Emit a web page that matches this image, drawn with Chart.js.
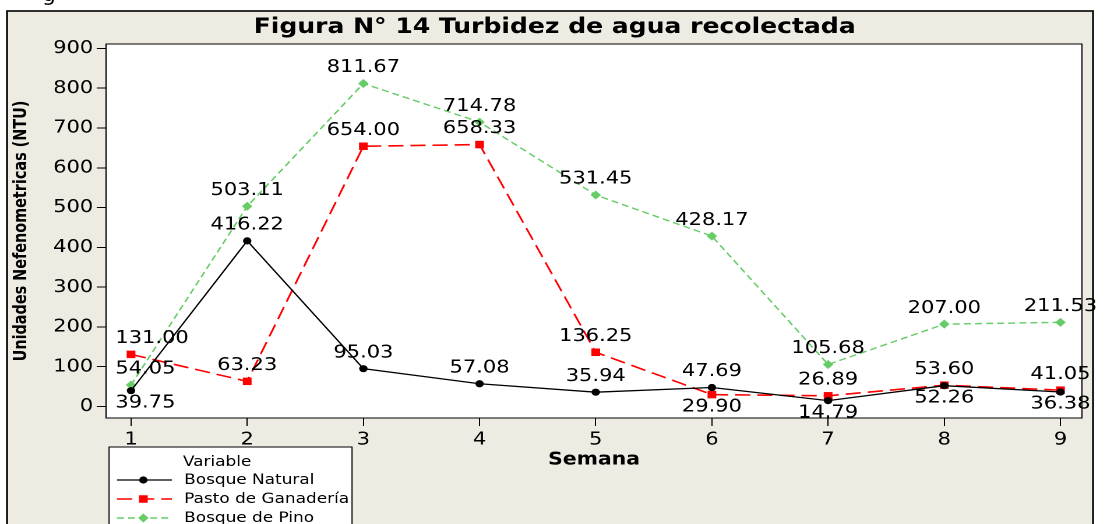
<!DOCTYPE html>
<html>
<head>
<meta charset="utf-8">
<script src="https://cdn.jsdelivr.net/npm/chart.js@4.4.1/dist/chart.umd.min.js"></script>
<style>
  html, body { margin: 0; padding: 0; background: #fff; overflow: hidden; }
  #cap { position: absolute; left: 42px; top: -19px; font: 22px "DejaVu Sans"; color: #000; line-height: 26px; }
</style>
</head>
<body>
<canvas id="c" width="950" height="524" style="width:1107px;height:524px;display:block;position:absolute;left:0;top:0"></canvas>
<div id="cap">g</div>
<script>
// ---- data ----
const weeks = [1, 2, 3, 4, 5, 6, 7, 8, 9];
const bosqueNatural = [39.75, 416.22, 95.03, 57.08, 35.94, 47.69, 14.79, 52.26, 36.38];
const pastoGanaderia = [131.00, 63.23, 654.00, 658.33, 136.25, 29.90, 26.89, 53.60, 41.05];
const bosquePino = [54.05, 503.11, 811.67, 714.78, 531.45, 428.17, 105.68, 207.00, 211.53];
const seriesNames = ['Bosque Natural', 'Pasto de Ganadería', 'Bosque de Pino'];
const xTicks = [1, 2, 3, 4, 5, 6, 7, 8, 9];
const yTicks = [0, 100, 200, 300, 400, 500, 600, 700, 800, 900];
const chartTitle = 'Figura N° 14 Turbidez de agua recolectada';
const xTitle = 'Semana';
const yTitle = 'Unidades Nefenometricas (NTU)';
const legendTitle = 'Variable';

// ---- styling (label side: a = above, b = below) ----
const sideNatural = ['b','a','a','a','a','a','b','b','b'];
const sidePasto   = ['a','a','a','a','a','b','a','a','a'];
const sidePino    = ['a','a','a','a','a','a','a','a','a'];

const FONT = '"DejaVu Sans", Verdana, sans-serif';
const toPts = vals => weeks.map((w, i) => ({ x: w, y: vals[i] }));

function drawMarker(ctx, style, r, x, y) {
  ctx.beginPath();
  if (style === 'circle') {
    ctx.arc(x, y, r, 0, Math.PI * 2);
  } else if (style === 'rect') {
    const s = Math.SQRT1_2 * r;
    ctx.rect(x - s, y - s, 2 * s, 2 * s);
  } else {
    ctx.moveTo(x - r, y); ctx.lineTo(x, y - r); ctx.lineTo(x + r, y); ctx.lineTo(x, y + r); ctx.closePath();
  }
  ctx.fill();
}

const framePlugin = {
  id: 'framePlugin',
  beforeDraw(chart) {
    const { ctx, chartArea: a, width, height } = chart;
    ctx.save();
    ctx.fillStyle = '#fff';
    ctx.fillRect(0, 0, width, height);
    ctx.fillStyle = '#EEEBE3';
    ctx.fillRect(6, 11, 932, 600);
    ctx.strokeStyle = '#000';
    ctx.lineWidth = 1.6;
    ctx.strokeRect(6, 11, 932, 600);
    ctx.fillStyle = '#fff';
    ctx.fillRect(a.left, a.top, a.right - a.left, a.bottom - a.top);
    ctx.restore();
  },
  afterDraw(chart) {
    const { ctx, chartArea: a } = chart;
    ctx.save();
    // plot border
    ctx.strokeStyle = '#000';
    ctx.lineWidth = 1;
    ctx.strokeRect(a.left, a.top, a.right - a.left, a.bottom - a.top);

    // data labels
    ctx.font = '18px ' + FONT;
    ctx.fillStyle = '#000';
    ctx.textAlign = 'center';
    ctx.textBaseline = 'middle';
    chart.data.datasets.forEach((ds, di) => {
      const meta = chart.getDatasetMeta(di);
      meta.data.forEach((pt, i) => {
        const txt = ds.data[i].y.toFixed(2);
        const w = ctx.measureText(txt).width;
        let cx = pt.x;
        if (cx - w / 2 < a.left + 8) cx = a.left + 8 + w / 2;
        const cy = pt.y + (ds.labelSide[i] === 'b' ? 12 : -16);
        ctx.fillText(txt, cx, cy);
      });
    });

    // chart title
    ctx.font = 'bold 21.5px ' + FONT;
    ctx.textBaseline = 'alphabetic';
    ctx.fillText(chartTitle, 476, 33);

    // legend
    const lx = 93.6, ly = 447;
    ctx.fillStyle = '#fff';
    ctx.fillRect(lx, ly, 208.5, 100);
    ctx.strokeStyle = '#000';
    ctx.lineWidth = 1;
    ctx.strokeRect(lx, ly, 208.5, 100);
    ctx.font = '14.5px ' + FONT;
    ctx.fillStyle = '#000';
    ctx.textAlign = 'left';
    ctx.textBaseline = 'middle';
    ctx.fillText(legendTitle, 157, 462);
    chart.data.datasets.forEach((ds, di) => {
      const y = 480 + di * 19;
      ctx.strokeStyle = ds.borderColor;
      ctx.lineWidth = ds.borderWidth;
      ctx.setLineDash(ds.borderDash || []);
      ctx.beginPath();
      ctx.moveTo(100.4, y); ctx.lineTo(147.6, y);
      ctx.stroke();
      ctx.setLineDash([]);
      ctx.fillStyle = ds.pointBackgroundColor;
      drawMarker(ctx, ds.pointStyle, ds.pointRadius, 123, y);
      ctx.fillStyle = '#000';
      ctx.fillText(ds.label, 158, y);
    });
    ctx.restore();
  }
};

new Chart(document.getElementById('c'), {
  type: 'line',
  data: {
    datasets: [
      {
        label: seriesNames[0], data: toPts(bosqueNatural), labelSide: sideNatural,
        borderColor: '#000000', borderWidth: 1.3, borderDash: [],
        pointStyle: 'circle', pointRadius: 3.6, pointBackgroundColor: '#000000', pointBorderColor: '#000000', pointBorderWidth: 0
      },
      {
        label: seriesNames[1], data: toPts(pastoGanaderia), labelSide: sidePasto,
        borderColor: '#FF0000', borderWidth: 1.6, borderDash: [13, 6],
        pointStyle: 'rect', pointRadius: 5.3, pointBackgroundColor: '#FF0000', pointBorderColor: '#FF0000', pointBorderWidth: 0
      },
      {
        label: seriesNames[2], data: toPts(bosquePino), labelSide: sidePino,
        borderColor: '#66CC66', borderWidth: 1.4, borderDash: [6, 3.5],
        pointStyle: 'rectRot', pointRadius: 4.5, pointBackgroundColor: '#66CC66', pointBorderColor: '#66CC66', pointBorderWidth: 0
      }
    ]
  },
  options: {
    responsive: false,
    devicePixelRatio: 2,
    animation: false,
    layout: { padding: { left: 0, top: 44, right: 21.5, bottom: 0 } },
    plugins: { legend: { display: false }, title: { display: false }, tooltip: { enabled: false } },
    elements: { line: { tension: 0, fill: false } },
    scales: {
      x: {
        type: 'linear', min: 0.785, max: 9.185,
        afterBuildTicks(s) { s.ticks = xTicks.map(v => ({ value: v })); },
        afterFit(s) { s.height = 106; },
        grid: { display: true, drawOnChartArea: false, drawTicks: true, tickLength: 8, tickColor: '#000', tickWidth: 1 },
        border: { display: true, color: '#000', width: 1 },
        ticks: { color: '#000', font: { family: FONT, size: 18 }, padding: 3, maxRotation: 0 },
        title: { display: true, text: xTitle, color: '#000', font: { family: FONT, size: 17.5, weight: 'bold' }, padding: { top: 0, bottom: 53.5 } }
      },
      y: {
        type: 'linear', min: -28.9, max: 911,
        afterBuildTicks(s) { s.ticks = yTicks.map(v => ({ value: v })); },
        afterFit(s) { s.width = 91; },
        grid: { display: true, drawOnChartArea: false, drawTicks: true, tickLength: 8, tickColor: '#000', tickWidth: 1 },
        border: { display: true, color: '#000', width: 1 },
        ticks: { color: '#000', font: { family: FONT, size: 18 }, padding: 3 },
        title: { display: true, text: yTitle, color: '#000', font: { family: '"DejaVu Sans Condensed", "DejaVu Sans", sans-serif', size: 16, weight: 'bold' }, padding: { top: 8.5, bottom: 0 } }
      }
    }
  },
  plugins: [framePlugin]
});
</script>
</body>
</html>
